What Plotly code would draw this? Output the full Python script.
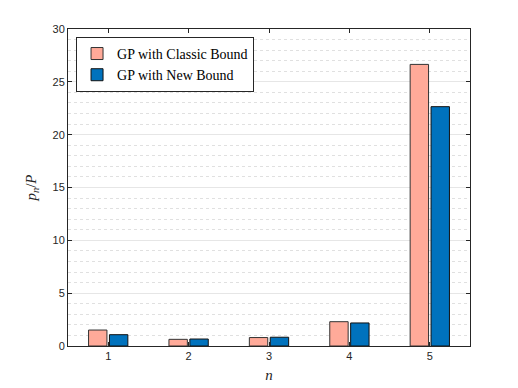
import plotly.graph_objects as go

n_values = [1, 2, 3, 4, 5]
classic_bound = [1.51, 0.63, 0.80, 2.30, 26.65]
new_bound = [1.07, 0.66, 0.83, 2.18, 22.65]
y_ticks = [0, 5, 10, 15, 20, 25, 30]

fig = go.Figure()
fig.add_trace(go.Bar(x=n_values, y=classic_bound, name="GP with Classic Bound",
                     marker=dict(color="#FFAA99", line=dict(color="#333333", width=1))))
fig.add_trace(go.Bar(x=n_values, y=new_bound, name="GP with New Bound",
                     marker=dict(color="#0072BD", line=dict(color="#111111", width=1))))

# page body has an 8px default margin, so the figure is 8px smaller and shifted
fig.update_layout(
    width=510, height=380,
    margin=dict(l=60, r=48, t=21, b=42),
    paper_bgcolor="white", plot_bgcolor="white",
    barmode="group", bargap=0.48, bargroupgap=0.12,
    font=dict(family="Liberation Sans, Arial", size=11, color="#262626"),
    showlegend=True,
    legend=dict(x=0.02, y=0.975, xanchor="left", yanchor="top",
                bordercolor="#262626", borderwidth=1, bgcolor="white",
                font=dict(family="Liberation Serif, Times New Roman", size=14, color="black"),
                tracegroupgap=0, itemwidth=30),
)

fig.update_xaxes(range=[0.5, 5.5], tickvals=n_values, ticks="inside", ticklen=4,
                 showline=True, linecolor="#262626", linewidth=1, mirror="ticks",
                 showgrid=False, zeroline=False, tickcolor="#262626", automargin=False,
                 title=dict(text="<i>n</i>", standoff=8,
                            font=dict(family="Liberation Serif, Times New Roman", size=15)))
fig.update_yaxes(range=[0, 30], tickvals=y_ticks, ticks="inside", ticklen=4,
                 showline=True, linecolor="#262626", linewidth=1, mirror="ticks",
                 showgrid=True, gridcolor="#E6E6E6", gridwidth=1, zeroline=False,
                 tickcolor="#262626", automargin=False,
                 minor=dict(dtick=1, showgrid=True, gridcolor="#E0E0E0", griddash="dot", gridwidth=1),
                 title=dict(text="<i>p</i><sub><i>n</i></sub>/<i>P</i>", standoff=12,
                            font=dict(family="Liberation Serif, Times New Roman", size=15)))

fig.write_html("out.html")
